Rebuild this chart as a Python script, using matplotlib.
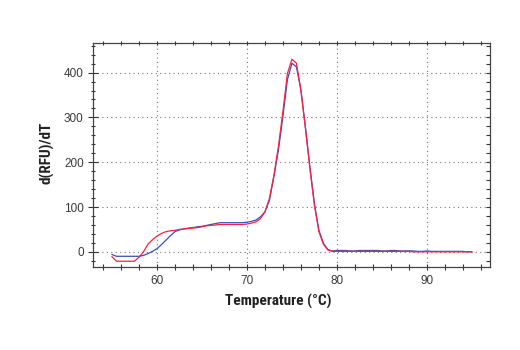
import numpy as np
import matplotlib
matplotlib.use("Agg")
import matplotlib.pyplot as plt
from matplotlib.ticker import MultipleLocator
from matplotlib import font_manager
from matplotlib import lines as mlines

# Melt-curve derivative, sampled every 0.5 °C from 55 to 95 °C
temperature = np.arange(55.0, 95.01, 0.5)

blue_curve = [
    -6, -10, -10, -10, -10, -10, -10, -8, -4, 1,
    7, 16, 26, 36, 45, 49, 51, 53, 54, 56,
    57, 59, 61, 63, 65, 65, 65, 65, 65, 65,
    66, 68, 71, 78, 89, 115, 168, 227, 302, 384,
    421, 413, 361, 279, 190, 108, 48, 19, 5, 2,
    3, 3, 3, 2, 2, 3, 3, 3, 3, 3,
    2, 2, 3, 3, 2, 2, 2, 2, 1, 1,
    2, 1, 1, 1, 1, 1, 1, 1, 1, 0, 0,
]

red_curve = [
    -11, -21, -21, -21, -21, -21, -12, 0, 17, 27,
    35, 41, 45, 47, 48, 50, 51, 52, 53, 54,
    56, 58, 59, 60, 61, 61, 61, 61, 61, 61,
    62, 64, 67, 74, 89, 119, 171, 235, 313, 398,
    430, 421, 361, 276, 186, 104, 45, 17, 4, 1,
    1, 1, 1, 1, 1, 1, 1, 1, 1, 1,
    1, 1, 1, 1, 1, 1, 1, 0, 0, 0,
    0, 0, 0, 0, 0, 0, 0, 0, 0, 0, 0,
]

x_ticks = [60, 70, 80, 90]
y_ticks = [0, 100, 200, 300, 400]

# pick a condensed bold face for the axis titles when one is available
installed = {f.name for f in font_manager.fontManager.ttflist}
condensed = [n for n in ("Liberation Sans Narrow", "Roboto Condensed",
                         "Open Sans Condensed", "DejaVu Sans Condensed")
             if n in installed]
if condensed:
    title_family = [condensed[0], "DejaVu Sans"]
    title_size = 11
else:
    title_family = ["Liberation Sans", "DejaVu Sans"]
    title_size = 9.5
plt.rcParams["font.family"] = ["Liberation Sans", "DejaVu Sans"]

fig = plt.figure(figsize=(5.2, 3.5), dpi=100)
ax = fig.add_axes([0.179, 0.237, 0.763, 0.640])

ax.plot(temperature, blue_curve, color="#3a4fc0", lw=0.9, zorder=3)
ax.plot(temperature, red_curve, color="#ff1f3f", lw=0.9, zorder=4)

ax.set_xlim(52.9, 97.0)
ax.set_ylim(-34, 466)
ax.set_xticks(x_ticks)
ax.set_yticks(y_ticks)
ax.xaxis.set_minor_locator(MultipleLocator(2))
ax.yaxis.set_minor_locator(MultipleLocator(20))

ax.grid(True, which="major", color="#777777", linestyle=(0, (1, 3)), lw=0.8)
ax.tick_params(which="both", direction="inout", top=True, right=True,
               labelsize=8.5, color="#333333", labelcolor="#3a3a3a")
ax.tick_params(axis="y", which="major", length=6.5, width=0.8)
ax.tick_params(axis="y", which="minor", length=3.5, width=0.8)
ax.tick_params(axis="x", which="major", length=5, width=0.8)
ax.tick_params(axis="x", which="minor", length=4, width=0.8)
# right-hand ticks point inward only, top ticks are short
for t in ax.yaxis.get_major_ticks() + ax.yaxis.get_minor_ticks():
    t.tick2line.set_marker(mlines.TICKLEFT)
    t.tick2line.set_markersize(3)
for t in ax.xaxis.get_major_ticks() + ax.xaxis.get_minor_ticks():
    t.tick2line.set_markersize(2.2)
for side in ax.spines.values():
    side.set_color("#444444")
    side.set_linewidth(0.9)

ax.set_xlabel("Temperature (°C)", fontsize=title_size, fontweight="bold",
              family=title_family, color="#222222")
ax.set_ylabel("d(RFU)/dT", fontsize=title_size, fontweight="bold",
              family=title_family, color="#222222")
ax.xaxis.set_label_coords(0.467, -0.12)
ax.yaxis.set_label_coords(-0.097, 0.51)

fig.savefig("out.png", dpi=100, facecolor="white")
